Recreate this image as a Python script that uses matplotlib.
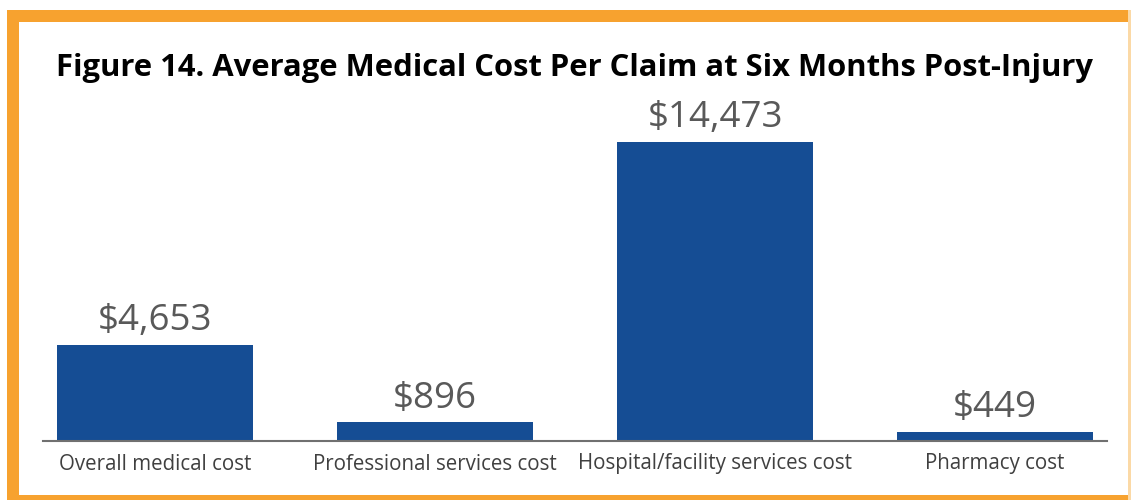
import matplotlib
matplotlib.use("Agg")
import matplotlib.pyplot as plt
from matplotlib.patches import Rectangle

categories = ["Overall medical cost", "Professional services cost",
              "Hospital/facility services cost", "Pharmacy cost"]
values = [4653, 896, 14473, 449]
value_labels = ["$4,653", "$896", "$14,473", "$449"]
title = "Figure 14. Average Medical Cost Per Claim at Six Months Post-Injury"

W, H = 1131, 500
fig = plt.figure(figsize=(W / 100, H / 100), dpi=100)
fig.patch.set_facecolor("white")

orange = "#F7A22F"
# Orange frame
fig.add_artist(Rectangle((7 / W, 0), 12 / W, (H - 10) / H, transform=fig.transFigure,
                         facecolor=orange, edgecolor="none", zorder=0))
fig.add_artist(Rectangle((7 / W, (H - 22) / H), (W - 7) / W, 12 / H, transform=fig.transFigure,
                         facecolor=orange, edgecolor="none", zorder=0))
fig.add_artist(Rectangle((7 / W, 0), (W - 7) / W, 5 / H, transform=fig.transFigure,
                         facecolor=orange, edgecolor="none", zorder=0))
fig.add_artist(Rectangle(((W - 3) / W, 0), 3 / W, (H - 10) / H, transform=fig.transFigure,
                         facecolor="#FBD9A6", edgecolor="none", zorder=0))

base_y = 441
top_y = 100
ax = fig.add_axes([43 / W, (H - base_y) / H, (1107 - 43) / W, (base_y - top_y) / H])
ax.set_facecolor("none")

x = list(range(len(categories)))
bars = ax.bar(x, values, width=0.70, color="#154D94", zorder=2)
ax.set_xlim(-0.4, 3.4)
ax.set_ylim(0, 14473 * (base_y - top_y) / (base_y - 142))

for b, lab in zip(bars, value_labels):
    ax.annotate(lab, (b.get_x() + b.get_width() / 2, b.get_height()),
                xytext=(0, 4), textcoords="offset points", ha="center", va="bottom",
                fontsize=26.5, color="#595959", family=["Open Sans", "DejaVu Sans"])

for s in ["top", "right", "left"]:
    ax.spines[s].set_visible(False)
ax.spines["bottom"].set_color("#707070")
ax.spines["bottom"].set_linewidth(1.5)
ax.set_yticks([])
ax.set_xticks(x)
ax.set_xticklabels(categories, fontsize=14.8, color="#404040", family=["Open Sans", "DejaVu Sans"])
ax.tick_params(axis="x", length=0, pad=9)

fig.text(575 / W, (H - 68) / H, title, ha="center", va="center", fontsize=22.3,
         fontweight="bold", color="black", family=["Open Sans", "DejaVu Sans"])

fig.savefig("out.png", dpi=100)
